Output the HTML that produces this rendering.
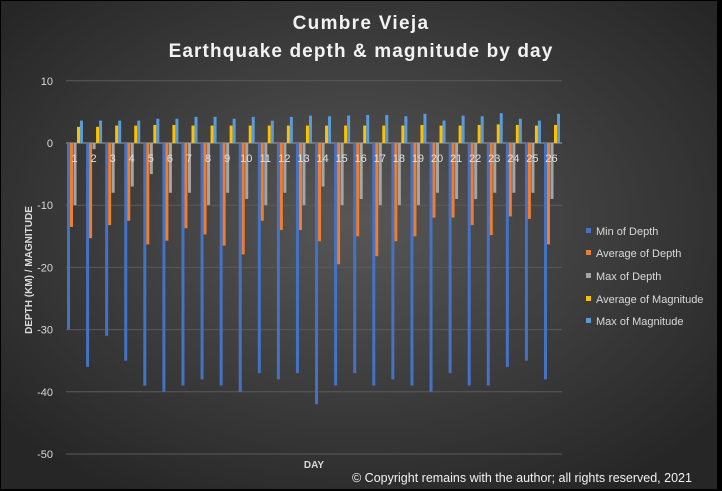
<!DOCTYPE html>
<html><head><meta charset="utf-8"><style>
body{margin:0;width:722px;height:491px;overflow:hidden;background:#000}
svg{display:block;font-family:"Liberation Sans",sans-serif}
</style></head><body>
<svg id="s" width="722" height="491" xmlns="http://www.w3.org/2000/svg">
<defs><radialGradient id="g" cx="50%" cy="45%" r="65%">
<stop offset="0" stop-color="#575757"/><stop offset="1" stop-color="#262626"/></radialGradient></defs>
<rect x="1" y="1" width="716" height="488" fill="url(#g)"/>
<text x="361" y="29" fill="#f2f2f2" font-size="19" font-weight="bold" text-anchor="middle" letter-spacing="1.3">Cumbre Vieja</text>
<text x="361" y="57" fill="#f2f2f2" font-size="19" font-weight="bold" text-anchor="middle" letter-spacing="1.1">Earthquake depth &amp; magnitude by day</text>
<g id="grid"></g><g id="bars"></g>
<text transform="translate(32,270) rotate(-90)" fill="#d9d9d9" font-size="10" font-weight="bold" text-anchor="middle">DEPTH (KM) / MAGNITUDE</text>
<text x="314" y="468" fill="#d9d9d9" font-size="10" font-weight="bold" text-anchor="middle">DAY</text>
<text x="352" y="482" fill="#f2f2f2" font-size="12.5">© Copyright remains with the author; all rights reserved, 2021</text>
<g font-size="11" fill="#d9d9d9">
<rect x="586" y="228" width="5" height="5" fill="#4472c4"/><text x="596" y="235">Min of Depth</text>
<rect x="586" y="250" width="5" height="5" fill="#ed7d31"/><text x="596" y="257">Average of Depth</text>
<rect x="586" y="273" width="5" height="5" fill="#a5a5a5"/><text x="596" y="280">Max of Depth</text>
<rect x="586" y="296" width="5" height="5" fill="#ffc000"/><text x="596" y="303">Average of Magnitude</text>
<rect x="586" y="318" width="5" height="5" fill="#5b9bd5"/><text x="596" y="325">Max of Magnitude</text>
</g>
</svg>
<script>
var d=[[-30,-13.5,-10,2.6,3.6],[-36,-15.3,-1,2.6,3.6],[-31,-13.2,-8,2.8,3.6],[-35,-12.5,-7,2.8,3.6],[-39,-16.3,-5,2.9,3.9],[-40,-15.7,-8,2.9,3.9],[-39,-13.7,-8,2.8,4.2],[-38,-14.7,-10,2.8,4.2],[-39,-16.5,-8,2.8,3.9],[-40,-17.9,-9,2.8,4.2],[-37,-12.5,-10,2.8,3.6],[-38,-14,-8,2.8,4.2],[-37,-14,-10,2.8,4.4],[-42,-15.8,-7,2.8,4.3],[-39,-19.5,-10,2.8,4.4],[-37,-15,-9,2.8,4.5],[-39,-18.2,-10,2.8,4.5],[-38,-15.8,-10,2.8,4.3],[-39,-15,-10,2.9,4.7],[-40,-12,-8,2.8,3.6],[-37,-12,-9,2.8,4.4],[-39,-13.2,-9,2.9,4.3],[-39,-14.8,-8,3.0,4.8],[-36,-11.8,-8,2.9,3.9],[-35,-12.2,-8,2.8,3.6],[-38,-16.3,-9,2.9,4.7]];
var c=["#4472c4","#ed7d31","#a5a5a5","#ffc000","#5b9bd5"],off=[1,4,7.5,11,14];
function Y(v){return 143-v*6.22}
var g="",b="";
for(var v=10;v>=-50;v-=10){var y=Y(v);g+='<line x1="66" x2="562" y1="'+y+'" y2="'+y+'" stroke="'+(v==0?'#a0a0a0':'#5a5a5a')+'" stroke-width="1"/><text x="53" y="'+(y+4)+'" fill="#d9d9d9" font-size="11" text-anchor="end">'+v+'</text>';}
for(var i=0;i<26;i++){var x0=66+i*19.08;
for(var k=0;k<5;k++){var v=d[i][k],y1=Y(Math.max(v,0)),h=Math.abs(Y(v)-Y(0));b+='<rect x="'+(x0+off[k])+'" y="'+y1+'" width="3" height="'+h+'" fill="'+c[k]+'"/>';}
b+='<text x="'+(x0+8.5)+'" y="162" fill="#e0e0e0" font-size="11" text-anchor="middle">'+(i+1)+'</text>';}
document.getElementById("grid").innerHTML=g;document.getElementById("bars").innerHTML=b;
</script>
</body></html>
